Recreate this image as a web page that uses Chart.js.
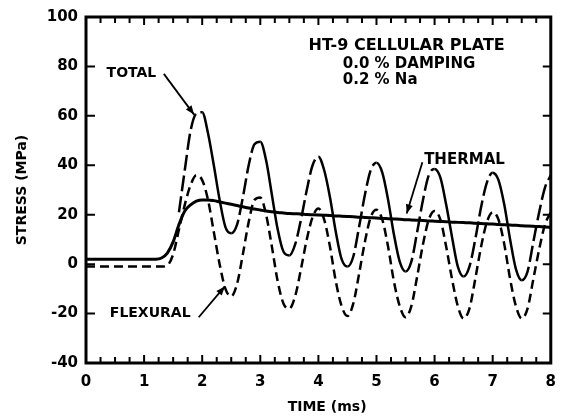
<!DOCTYPE html>
<html>
<head>
<meta charset="utf-8">
<script src="https://cdn.jsdelivr.net/npm/chart.js@4"></script>
<style>
  html, body { margin: 0; padding: 0; background: #fff; }
  canvas { display: block; }
</style>
</head>
<body>
<canvas id="chart" width="566" height="418"></canvas>
<script>
// time axis (ms), 0.1 ms step
const times = [];
for (let i = 0; i <= 80; i++) times.push(+(i * 0.1).toFixed(1));

// thermal stress (MPa)
const thermal = [
    2, 2, 2, 2, 2, 2, 2, 2, 2, 2,
    2, 2, 2, 2.5, 4.5, 9, 16, 21.5, 24, 25.5,
    26, 26, 25.7, 25.2, 24.7, 24.2, 23.7, 23.2, 22.7, 22.3,
    21.9, 21.5, 21.2, 20.9, 20.7, 20.5, 20.4, 20.3, 20.1, 20.0,
    19.9, 19.8, 19.7, 19.5, 19.4, 19.3, 19.2, 19.0, 18.9, 18.8,
    18.7, 18.5, 18.4, 18.3, 18.2, 18.0, 17.9, 17.8, 17.7, 17.5,
    17.4, 17.3, 17.2, 17.0, 16.9, 16.8, 16.7, 16.5, 16.4, 16.3,
    16.2, 16.0, 15.9, 15.8, 15.7, 15.5, 15.4, 15.3, 15.2, 15.0,
    14.9
];

// flexural stress (MPa), dashed curve
const flexural = [
    -1, -1, -1, -1, -1, -1, -1, -1, -1, -1,
    -1, -1, -1, -1, -0.5, 4, 14, 24, 32, 36,
    34, 26, 13, 0, -10, -13, -8, 4, 17, 26,
    27, 20, 7, -7, -16, -18, -13, -2, 10, 19,
    22.5, 18, 7, -7, -17, -21, -16, -4, 9, 19,
    22, 18, 7, -7, -17, -21.5, -17, -5, 8, 18,
    21.5, 18, 7, -6, -17, -22, -18, -6, 7, 17,
    21, 18, 8, -6, -17, -22, -18, -6, 6, 16,
    21
];

// total stress (MPa), starts once the pulse arrives
const total = [
    null, null, null, null, null, null, null, null, null, null,
    null, null, null, null, null, null, 21, 38, 54, 61,
    61.5, 53, 40, 26, 15, 12.5, 16, 27, 40, 48.5,
    49.5, 42, 28, 14, 5, 3.5, 8, 18, 30, 40,
    43.5, 38, 27, 13, 2, -1, 3, 15, 28, 38,
    41, 37, 26, 12, 1, -3, 1, 13, 26, 36,
    38.5, 35, 24, 11, -1, -5, -1, 10, 23, 33,
    37, 34, 24, 10, -2, -6.5, -3, 9, 21, 31,
    36
];

const yTicks = [-40, -20, 0, 20, 40, 60, 80, 100];
const xTicks = [0, 1, 2, 3, 4, 5, 6, 7, 8];

const toPoints = (arr) => arr.map((v, i) => ({ x: times[i], y: v }));

const boldFont = (size) => ({ family: 'DejaVu Sans', weight: 'bold', size: size });

// frame, inward ticks, annotations
const decorPlugin = {
    id: 'decor',
    afterDraw(chart) {
        const ctx = chart.ctx;
        const xs = chart.scales.x;
        const ys = chart.scales.y;
        const a = chart.chartArea;
        const px = (t) => xs.getPixelForValue(t);
        const py = (v) => ys.getPixelForValue(v);

        ctx.save();
        ctx.strokeStyle = '#000';
        ctx.fillStyle = '#000';
        ctx.lineWidth = 3;
        ctx.strokeRect(a.left, a.top, a.right - a.left, a.bottom - a.top);

        // x ticks every 0.25 ms, top and bottom, pointing in
        ctx.lineWidth = 2;
        for (let q = 1; q < 32; q++) {
            const t = q * 0.25;
            const len = q % 4 === 0 ? 8 : 6;
            const x = px(t);
            ctx.beginPath();
            ctx.moveTo(x, a.bottom);
            ctx.lineTo(x, a.bottom - len);
            ctx.moveTo(x, a.top);
            ctx.lineTo(x, a.top + len);
            ctx.stroke();
        }
        // y ticks at labels, left and right
        yTicks.forEach(v => {
            if (v === -40 || v === 100) return;
            const y = py(v);
            ctx.beginPath();
            ctx.moveTo(a.left, y);
            ctx.lineTo(a.left + 9, y);
            ctx.moveTo(a.right, y);
            ctx.lineTo(a.right - 8, y);
            ctx.stroke();
        });

        // text notes
        ctx.textBaseline = 'middle';
        ctx.font = 'bold 14px "DejaVu Sans"';
        ctx.textAlign = 'left';
        ctx.fillText('TOTAL', px(0.355), py(77.2));
        ctx.fillText('FLEXURAL', px(0.41), py(-20));
        ctx.font = 'bold 15px "DejaVu Sans"';
        ctx.fillText('THERMAL', px(5.82), py(42));

        ctx.font = 'bold 16px "DejaVu Sans"';
        ctx.textAlign = 'center';
        ctx.fillText('HT-9 CELLULAR PLATE', px(5.52), py(88.4));
        ctx.font = 'bold 15px "DejaVu Sans"';
        ctx.textAlign = 'left';
        ctx.fillText('0.0 % DAMPING', px(4.42), py(80.8));
        ctx.fillText('0.2 % Na', px(4.42), py(74.4));

        // arrows
        const arrow = (t0, v0, t1, v1) => {
            const x0 = px(t0), y0 = py(v0), x1 = px(t1), y1 = py(v1);
            ctx.lineWidth = 1.8;
            ctx.beginPath();
            ctx.moveTo(x0, y0);
            ctx.lineTo(x1, y1);
            ctx.stroke();
            const ang = Math.atan2(y1 - y0, x1 - x0);
            const L = 9, W = 3.5;
            ctx.beginPath();
            ctx.moveTo(x1, y1);
            ctx.lineTo(x1 - L * Math.cos(ang) + W * Math.sin(ang), y1 - L * Math.sin(ang) - W * Math.cos(ang));
            ctx.lineTo(x1 - L * Math.cos(ang) - W * Math.sin(ang), y1 - L * Math.sin(ang) + W * Math.cos(ang));
            ctx.closePath();
            ctx.fill();
        };
        arrow(1.34, 77, 1.86, 60.5);
        arrow(1.94, -21.5, 2.39, -9);
        arrow(5.79, 41.2, 5.52, 20.5);

        // x axis title, drawn slightly right of centre as in the original
        ctx.font = 'bold 14px "DejaVu Sans"';
        ctx.textAlign = 'center';
        ctx.fillText('TIME (ms)', px(4.15), 407);
        ctx.restore();
    }
};

const risingDash = (ctx) => (ctx.p1.parsed.y > ctx.p0.parsed.y ? [16, 5] : []);

new Chart(document.getElementById('chart').getContext('2d'), {
    type: 'line',
    data: {
        datasets: [
            {
                label: 'THERMAL',
                data: toPoints(thermal),
                borderColor: '#000',
                borderWidth: 3,
                pointRadius: 0,
                cubicInterpolationMode: 'monotone',
                fill: false
            },
            {
                label: 'FLEXURAL',
                data: toPoints(flexural),
                borderColor: '#000',
                borderWidth: 2.5,
                borderDash: [9, 5],
                pointRadius: 0,
                cubicInterpolationMode: 'monotone',
                fill: false
            },
            {
                label: 'TOTAL',
                data: toPoints(total),
                borderColor: '#000',
                borderWidth: 2.5,
                pointRadius: 0,
                cubicInterpolationMode: 'monotone',
                spanGaps: false,
                segment: { borderDash: risingDash },
                fill: false
            }
        ]
    },
    options: {
        responsive: false,
        animation: false,
        layout: { padding: { top: 13, right: 7, left: 0, bottom: 0 } },
        plugins: {
            legend: { display: false },
            tooltip: { enabled: false }
        },
        scales: {
            x: {
                type: 'linear',
                min: 0,
                max: 8,
                afterFit: (s) => { s.height = 55; },
                afterBuildTicks: (s) => { s.ticks = xTicks.map(v => ({ value: v })); },
                grid: { display: false, drawTicks: false },
                border: { display: false },
                ticks: {
                    color: '#000',
                    font: boldFont(15),
                    padding: 10,
                    maxRotation: 0
                },
                title: { display: false }
            },
            y: {
                min: -40,
                max: 100,
                afterFit: (s) => { s.width = 86; },
                afterBuildTicks: (s) => { s.ticks = yTicks.map(v => ({ value: v })); },
                grid: { display: false, drawTicks: false },
                border: { display: false },
                ticks: {
                    color: '#000',
                    font: boldFont(15),
                    padding: 8
                },
                title: {
                    display: true,
                    text: 'STRESS (MPa)',
                    color: '#000',
                    font: boldFont(14),
                    padding: { top: 14, bottom: 0 }
                }
            }
        }
    },
    plugins: [decorPlugin]
});
</script>
</body>
</html>
